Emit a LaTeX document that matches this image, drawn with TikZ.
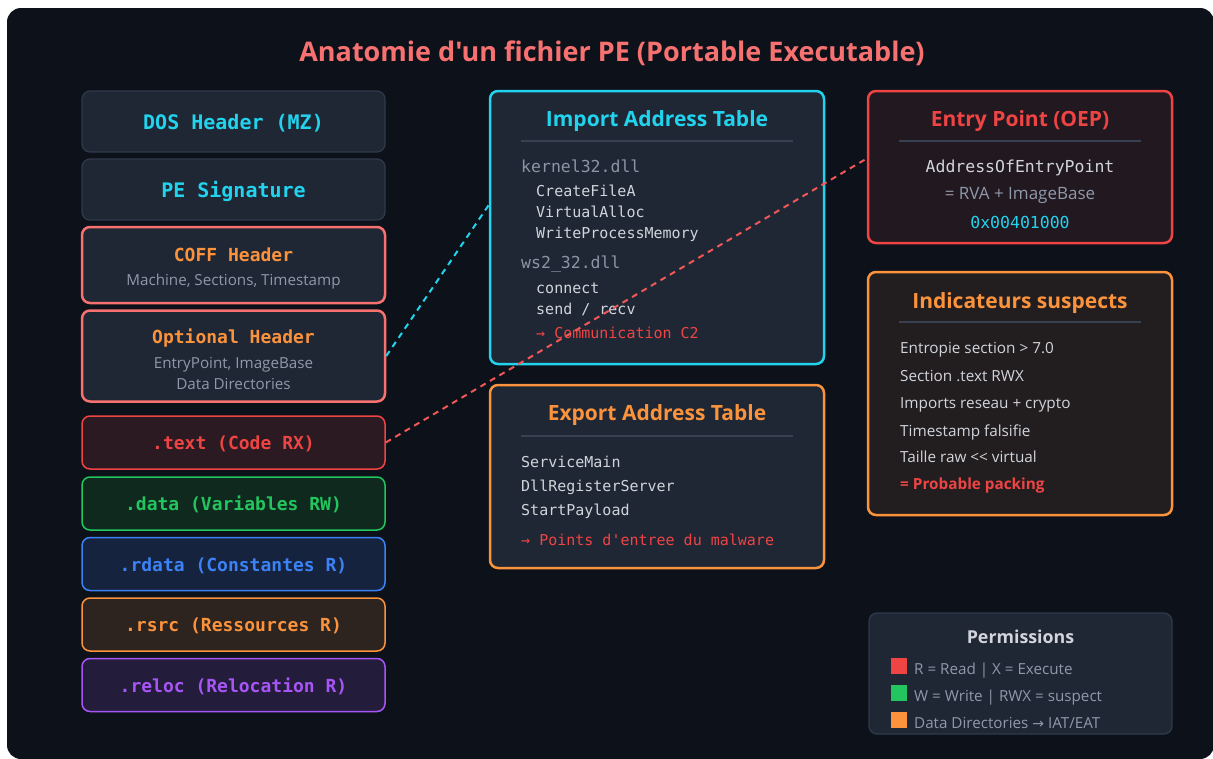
\documentclass[tikz,border=0pt]{standalone}
\usepackage{fontspec}
\newfontfamily\sansf{Open Sans}
\newfontfamily\symf{DejaVu Sans}
\setmonofont{DejaVu Sans Mono}
\usetikzlibrary{calc}
\definecolor{bg}{HTML}{0D111A}
\definecolor{boxfill}{HTML}{1F2735}
\definecolor{boxline}{HTML}{2F3A4B}
\definecolor{sepline}{HTML}{374151}
\definecolor{cyanc}{HTML}{22D3EE}
\definecolor{lred}{HTML}{F87171}
\definecolor{redc}{HTML}{EF4444}
\definecolor{orangec}{HTML}{FB923C}
\definecolor{greenc}{HTML}{22C55E}
\definecolor{bluec}{HTML}{3B82F6}
\definecolor{purplec}{HTML}{A855F7}
\definecolor{greytxt}{HTML}{8F99AA}
\definecolor{lighttxt}{HTML}{D1D5DB}
\definecolor{dlltxt}{HTML}{8B95A5}
\definecolor{textfill}{HTML}{2B1A22}
\definecolor{datafill}{HTML}{10291F}
\definecolor{rdatafill}{HTML}{16233F}
\definecolor{rsrcfill}{HTML}{2D241F}
\definecolor{relocfill}{HTML}{231C3B}
\definecolor{oepfill}{HTML}{221820}
\definecolor{indfill}{HTML}{221E20}
\newcommand\setfs[1]{\fontsize{#1}{#1}\selectfont}
\begin{document}
\begin{tikzpicture}[x=1pt,y=-1pt,
  panel/.style={rectangle, rounded corners=8pt, inner sep=0pt},
  leftbox/.style={panel, minimum width=303pt},
  greybox/.style={leftbox, fill=boxfill, draw=boxline, line width=1.2pt},
  redbox/.style={leftbox, fill=boxfill, draw=lred, line width=2.5pt},
  secbox/.style={leftbox, minimum height=53pt, line width=1.5pt},
  bigbox/.style={panel, line width=2.5pt},
  lbl/.style={inner sep=0pt, anchor=base},
  lbll/.style={inner sep=0pt, anchor=base west},
  monohead/.style={lbl, font=\ttfamily\bfseries\setfs{20}, text=cyanc},
  monosub/.style={lbl, font=\ttfamily\bfseries\setfs{18}},
  subtxt/.style={lbl, font=\sansf\setfs{15.2}, text=greytxt},
  cardtitle/.style={lbl, font=\sansf\bfseries\setfs{21}},
  fn/.style={lbll, font=\ttfamily\setfs{15}, text=lighttxt},
  dll/.style={lbll, font=\ttfamily\setfs{16.5}, text=dlltxt},
  sepl/.style={draw=sepline, line width=1.2pt},
  item/.style={lbll, font=\sansf\setfs{15.3}, text=lighttxt},
  permitem/.style={lbll, font=\sansf\setfs{15.2}, text=greytxt},
  link/.style={line width=2pt, dash pattern=on 6pt off 5pt}
]
\useasboundingbox (0,0) rectangle (1213,758);
\fill[white] (0,0) rectangle (1213,758);
\fill[bg, rounded corners=14pt] (7,8) rectangle (1214,759);

% Title
\node[lbl, font=\sansf\bfseries\setfs{27}, text=lred] (title) at (612,61) {Anatomie d'un fichier PE (Portable Executable)};

% Left column
\node[greybox, minimum height=61pt] (dos) at (233.5,121.5) {};
\node[monohead] (tdos) at (233.5,129) {DOS Header (MZ)};
\node[greybox, minimum height=61pt] (pesig) at (233.5,189.5) {};
\node[monohead] (tpesig) at (233.5,197) {PE Signature};

\node[redbox, minimum height=76pt] (coff) at (233.5,265) {};
\node[monosub, text=orangec] (tcoff) at (233.5,261.5) {COFF Header};
\node[subtxt] (scoff) at (233.5,285) {Machine, Sections, Timestamp};

\node[redbox, minimum height=91pt] (opt) at (233.5,356) {};
\node[monosub, text=orangec] (topt) at (233.5,343.5) {Optional Header};
\node[subtxt] (sopt1) at (233.5,368) {EntryPoint, ImageBase};
\node[subtxt] (sopt2) at (233.5,389) {Data Directories};

\node[secbox, fill=textfill, draw=redc] (text) at (233.5,442.5) {};
\node[monosub, text=redc] (ttext) at (233.5,449.5) {.text (Code RX)};
\node[secbox, fill=datafill, draw=greenc] (data) at (233.5,503.5) {};
\node[monosub, text=greenc] (tdata) at (233.5,510.5) {.data (Variables RW)};
\node[secbox, fill=rdatafill, draw=bluec] (rdata) at (233.5,564) {};
\node[monosub, text=bluec] (trdata) at (233.5,571) {.rdata (Constantes R)};
\node[secbox, fill=rsrcfill, draw=orangec] (rsrc) at (233.5,624.5) {};
\node[monosub, text=orangec] (trsrc) at (233.5,631.5) {.rsrc (Ressources R)};
\node[secbox, fill=relocfill, draw=purplec] (reloc) at (233.5,685) {};
\node[monosub, text=purplec] (treloc) at (233.5,692) {.reloc (Relocation R)};

% Import Address Table
\node[bigbox, fill=boxfill, draw=cyanc, minimum width=334pt, minimum height=273pt] (iat) at (657,227.5) {};
\node[cardtitle, text=cyanc] (tiat) at (657,126) {Import Address Table};
\draw[sepl] (521,141) -- (793,141);
\node[dll] (k32) at (521,172) {kernel32.dll};
\node[fn] (f1) at (536,196) {CreateFileA};
\node[fn] (f2) at (536,217) {VirtualAlloc};
\node[fn] (f3) at (536,238) {WriteProcessMemory};
\node[dll] (ws2) at (521,268) {ws2\_32.dll};
\node[fn] (f4) at (536,293) {connect};
\node[fn] (f5) at (536,314) {send / recv};
\node[fn, text=redc] (c2) at (536,338) {→ Communication C2};

% Export Address Table
\node[bigbox, fill=boxfill, draw=orangec, minimum width=334pt, minimum height=183pt] (eat) at (657,476.5) {};
\node[cardtitle, text=orangec] (teat) at (657,420.5) {Export Address Table};
\draw[sepl] (521,436) -- (793,436);
\node[fn] (e1) at (521,467) {ServiceMain};
\node[fn] (e2) at (521,491) {DllRegisterServer};
\node[fn] (e3) at (521,515) {StartPayload};
\node[fn, text=redc] (e4) at (521,545) {→ Points d'entree du malware};

% Entry Point
\node[bigbox, fill=oepfill, draw=redc, minimum width=304pt, minimum height=152pt] (oep) at (1020,167) {};
\node[cardtitle, text=redc] (toep) at (1020,126) {Entry Point (OEP)};
\draw[sepl] (899,141) -- (1141,141);
\node[lbl, font=\ttfamily\setfs{16.5}, text=lighttxt] (aoep) at (1020,172) {AddressOfEntryPoint};
\node[lbl, font=\sansf\setfs{17}, text=greytxt] (rva) at (1020,199) {= RVA + ImageBase};
\node[lbl, font=\ttfamily\setfs{16.5}, text=cyanc] (hex) at (1020,228) {0x00401000};

% Indicateurs suspects
\node[bigbox, fill=indfill, draw=orangec, minimum width=304pt, minimum height=243pt] (ind) at (1020,393.5) {};
\node[cardtitle, text=orangec] (tind) at (1020,308) {Indicateurs suspects};
\draw[sepl] (899,322) -- (1141,322);
\node[item] (i1) at (900,353) {Entropie section > 7.0};
\node[item] (i2) at (900,381) {Section .text RWX};
\node[item] (i3) at (900,408) {Imports reseau + crypto};
\node[item] (i4) at (900,436) {Timestamp falsifie};
\node[item] (i5) at (900,462) {Taille raw << virtual};
\node[item, font=\sansf\bfseries\setfs{15.3}, text=redc] (i6) at (900,489) {= Probable packing};

% Permissions
\node[panel, fill=boxfill, draw=boxline, line width=1.2pt, minimum width=303pt, minimum height=121pt] (perm) at (1020.5,673.5) {};
\node[lbl, font=\sansf\bfseries\setfs{17.8}, text=lighttxt] (tperm) at (1020.5,643) {Permissions};
\fill[redc] (891,658) rectangle (907,674);
\fill[greenc] (891,685) rectangle (907,701);
\fill[orangec] (891,712) rectangle (907,728);
\node[permitem] (p1) at (914,674) {R = Read | X = Execute};
\node[permitem] (p2) at (914,701) {W = Write | RWX = suspect};
\node[permitem] (p3) at (914,728) {Data Directories {\symf\setfs{14}→} IAT/EAT};

% Connectors
\draw[link, cyanc] (opt.east) -- ([yshift=22.5pt]iat.west);
\draw[link, redc!90!white] (text.east) -- ([yshift=8.5pt]oep.west);
\end{tikzpicture}
\end{document}
